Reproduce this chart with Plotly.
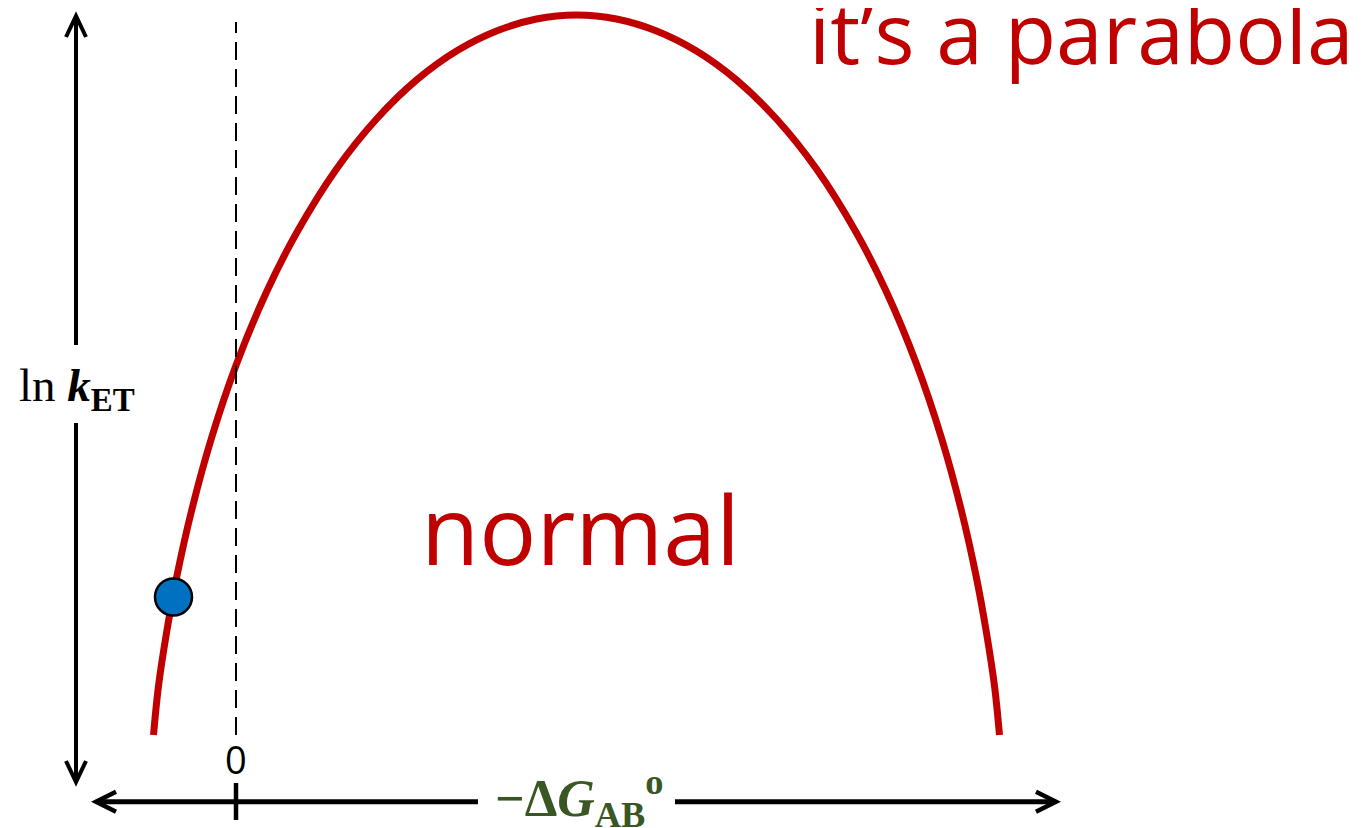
import plotly.graph_objects as go

# ---- data (conceptual units: x = -ΔG°_AB, y = ln k_ET) ----
dg_left = [-0.825, -0.775, -0.695, -0.595, -0.445, -0.245, 0.005, 0.305, 0.605, 1.005,
           1.405, 1.805, 2.205, 2.605, 3.005, 3.405]
lnk_left = [0.00, 0.49, 1.02, 1.57, 2.24, 2.97, 3.71, 4.43, 5.02, 5.66,
            6.16, 6.55, 6.84, 7.04, 7.16, 7.20]
dg_right = [3.805, 4.205, 4.605, 5.005, 5.405, 5.805, 6.205, 6.505, 6.805, 7.055,
            7.255, 7.405, 7.505, 7.585, 7.635]
lnk_right = [7.16, 7.04, 6.84, 6.55, 6.16, 5.66, 5.02, 4.43, 3.71, 2.97,
             2.24, 1.57, 1.02, 0.49, 0.00]
dg_curve = dg_left + dg_right
lnk_curve = lnk_left + lnk_right

point_dg = [-0.625]
point_lnk = [1.38]

zero_tick_label = "0"
curve_label = "normal"
title_text = "it’s a parabola"
y_label = "ln <b><i>k</i></b><sub><b>ET</b></sub>"
x_label = "<b>−Δ<i>G</i></b><sub><b>AB</b></sub><sup><b>o</b></sup>"

RED = "#C00000"
BLUE = "#0070C0"
GREEN = "#385723"

fig = go.Figure()

fig.add_trace(go.Scatter(
    x=dg_curve, y=lnk_curve, mode="lines",
    line=dict(color=RED, width=7, shape="spline", smoothing=1.0),
    hoverinfo="skip", showlegend=False))

fig.add_trace(go.Scatter(
    x=point_dg, y=point_lnk, mode="markers",
    marker=dict(size=37, color=BLUE, line=dict(color="black", width=2.5)),
    hoverinfo="skip", showlegend=False))

shapes = []
# dashed zero line
shapes.append(dict(type="line", xref="x", yref="y", x0=0, x1=0, y0=0.0, y1=7.13,
                   line=dict(color="black", width=2, dash="18px,9px")))
# y axis arrow (with gap for label)
yax_x = -1.60
shapes.append(dict(type="line", xref="x", yref="y", x0=yax_x, x1=yax_x, y0=3.90, y1=7.17,
                   line=dict(color="black", width=4)))
shapes.append(dict(type="line", xref="x", yref="y", x0=yax_x, x1=yax_x, y0=-0.45, y1=3.12,
                   line=dict(color="black", width=4)))
shapes.append(dict(type="path", xref="x", yref="y",
                   path=f"M {yax_x-0.10},{7.19-0.21} L {yax_x},{7.19} L {yax_x+0.10},{7.19-0.21}",
                   line=dict(color="black", width=4)))
shapes.append(dict(type="path", xref="x", yref="y",
                   path=f"M {yax_x-0.10},{-0.47+0.21} L {yax_x},{-0.47} L {yax_x+0.10},{-0.47+0.21}",
                   line=dict(color="black", width=4)))
# x axis arrow (with gap for label)
xax_y = -0.667
shapes.append(dict(type="line", xref="x", yref="y", x0=-1.38, x1=2.42, y0=xax_y, y1=xax_y,
                   line=dict(color="black", width=5)))
shapes.append(dict(type="line", xref="x", yref="y", x0=4.39, x1=8.18, y0=xax_y, y1=xax_y,
                   line=dict(color="black", width=5)))
shapes.append(dict(type="path", xref="x", yref="y",
                   path=f"M {-1.40+0.20},{xax_y+0.10} L {-1.40},{xax_y} L {-1.40+0.20},{xax_y-0.10}",
                   line=dict(color="black", width=4.5)))
shapes.append(dict(type="path", xref="x", yref="y",
                   path=f"M {8.20-0.20},{xax_y+0.10} L {8.20},{xax_y} L {8.20-0.20},{xax_y-0.10}",
                   line=dict(color="black", width=4.5)))
# zero tick
shapes.append(dict(type="line", xref="x", yref="y", x0=0, x1=0, y0=-0.48, y1=-0.85,
                   line=dict(color="black", width=4.5)))

annotations = [
    dict(x=0, y=-0.24, xref="x", yref="y", text=zero_tick_label, showarrow=False,
         font=dict(family="Open Sans", size=38, color="black"), xanchor="center", yanchor="middle"),
    dict(x=-1.59, y=3.47, xref="x", yref="y", text=y_label, showarrow=False,
         font=dict(family="Liberation Serif", size=47, color="black"), xanchor="center", yanchor="middle"),
    dict(x=3.43, y=-0.63, xref="x", yref="y", text=x_label, showarrow=False,
         font=dict(family="Liberation Serif", size=52, color=GREEN), xanchor="center", yanchor="middle"),
    dict(x=3.44, y=2.07, xref="x", yref="y", text=curve_label, showarrow=False,
         font=dict(family="Open Sans", size=95, color=RED), xanchor="center", yanchor="middle"),
    dict(x=5.71, y=7.04, xref="x", yref="y", text=title_text, showarrow=False,
         font=dict(family="Open Sans", size=84, color=RED), xanchor="left", yanchor="middle"),
]

# page body has an 8px margin: shift ranges so marks land where the reference has them
fig.update_layout(
    width=1365, height=828,
    margin=dict(l=0, r=0, t=0, b=0),
    paper_bgcolor="white", plot_bgcolor="white",
    xaxis=dict(range=[-2.28, 11.37], visible=False, fixedrange=True),
    yaxis=dict(range=[-1.01, 7.27], visible=False, fixedrange=True),
    shapes=shapes, annotations=annotations, showlegend=False,
)

fig.write_html("out.html")
